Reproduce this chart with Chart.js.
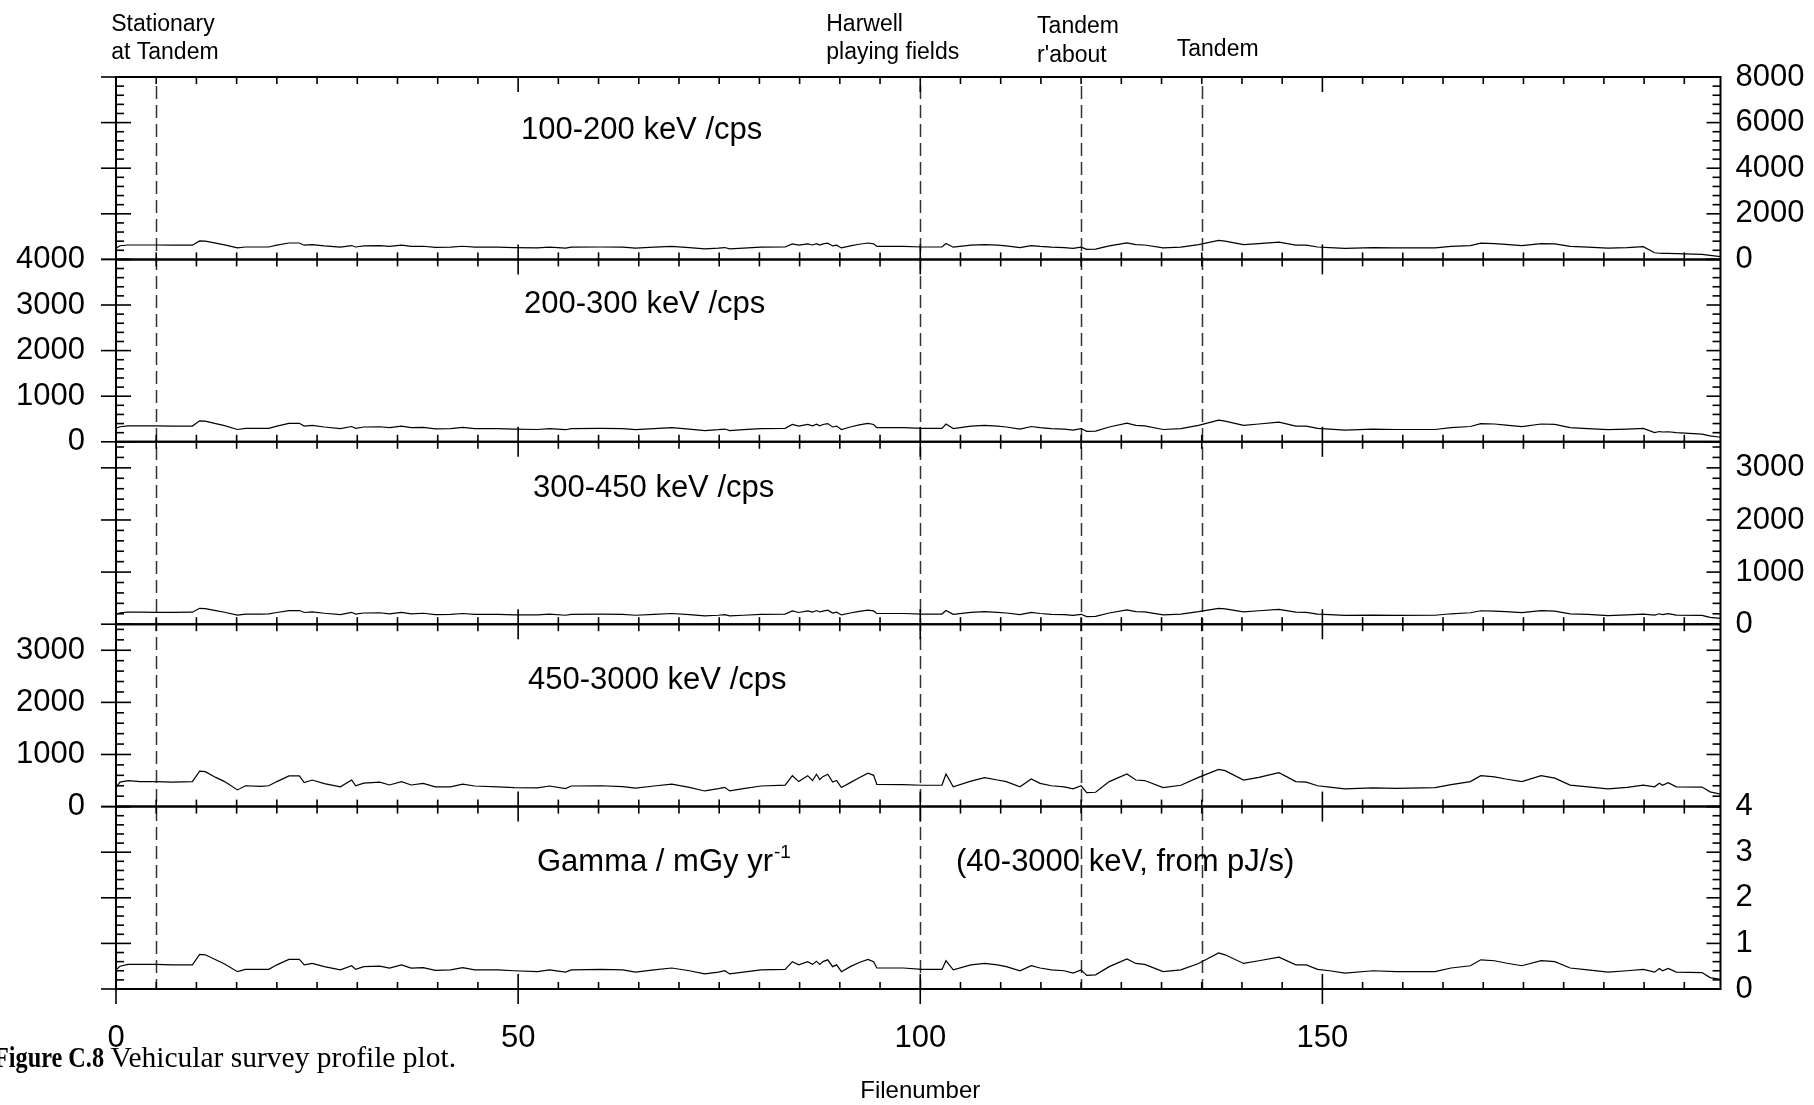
<!DOCTYPE html>
<html>
<head>
<meta charset="utf-8">
<title>Vehicular survey profile plot</title>
<script src="https://cdn.jsdelivr.net/npm/chart.js@4.4.1/dist/chart.umd.min.js"></script>
<style>
  html, body { margin: 0; padding: 0; background: #fff; }
  #wrap { position: relative; width: 1814px; height: 1105px; }
</style>
</head>
<body>
<div id="wrap"><canvas id="profileChart"></canvas></div>
<script>
// file numbers along the survey route (shared by every trace)
const fileNumbers = [
    0, 0.5, 1.5, 3, 5, 7, 9.5, 10.4, 11.1, 12.4,
    13.5, 15.1, 16.1, 18, 19, 20, 21.5, 22.8, 23.4, 24.4,
    25.9, 27.9, 29.3, 29.8, 30.8, 32.8, 34, 35.5, 36.7, 38.2,
    39.7, 41.6, 43.1, 44.6, 47.5, 49.5, 52.4, 53.9, 55.9, 56.6,
    60.3, 63, 64.6, 66.9, 69.1, 71.3, 73.2, 74.9, 75.7, 76.3,
    78, 80.2, 83.2, 84.1, 84.9, 86, 86.6, 87.1, 87.5, 87.9,
    88.5, 89.1, 89.6, 90.2, 91.3, 92.4, 93.5, 94.2, 94.6, 97.9,
    100.2, 102.7, 103.2, 104.1, 106.3, 108, 109.6, 110.7, 112.4, 113.8,
    114.9, 116.3, 117.9, 119, 120, 120.7, 121.8, 123.5, 125.7, 126.8,
    127.9, 130.2, 132.4, 134.6, 137.1, 137.9, 140.2, 142.1, 144.6, 146.7,
    148, 149.4, 150.9, 152.8, 156.3, 159.2, 164, 166, 168.4, 169.7,
    171.4, 172.8, 174.8, 177.2, 178.9, 180.8, 183, 185.5, 187.9, 189.9,
    191.3, 191.9, 192.3, 193, 194, 197.2, 198.2, 199.5
];

// 100-200 keV /cps
const counts100to200 = [
    490, 600, 632, 632, 632, 624, 624, 808, 800, 712,
    640, 504, 544, 544, 544, 624, 720, 720, 624, 648,
    592, 536, 608, 544, 592, 600, 568, 624, 568, 576,
    528, 536, 576, 536, 536, 520, 504, 536, 496, 536,
    544, 536, 496, 536, 568, 520, 464, 496, 520, 464,
    496, 536, 544, 680, 624, 680, 632, 688, 632, 680,
    712, 592, 624, 504, 592, 664, 720, 680, 568, 568,
    544, 544, 696, 536, 624, 648, 624, 592, 520, 608,
    568, 536, 520, 480, 536, 440, 448, 592, 728, 648,
    632, 504, 536, 648, 832, 800, 648, 696, 760, 624,
    624, 544, 520, 480, 520, 504, 504, 568, 608, 712,
    696, 656, 608, 696, 680, 568, 536, 496, 520, 560,
    290, 270, 265, 262, 255, 223, 180, 120
];

// 200-300 keV /cps
const counts200to300 = [
    300, 330, 350, 350, 350, 345, 345, 460, 455, 400,
    355, 270, 295, 295, 295, 345, 405, 405, 345, 360,
    325, 290, 335, 295, 325, 330, 310, 345, 310, 315,
    285, 290, 315, 290, 290, 280, 270, 290, 265, 290,
    295, 290, 265, 290, 310, 280, 245, 265, 280, 245,
    265, 290, 295, 380, 345, 380, 350, 385, 350, 380,
    400, 325, 345, 270, 325, 370, 405, 380, 310, 310,
    295, 295, 390, 290, 345, 360, 345, 325, 280, 335,
    310, 290, 280, 255, 290, 230, 235, 325, 410, 360,
    350, 270, 290, 360, 475, 455, 360, 390, 430, 345,
    345, 295, 280, 255, 280, 270, 270, 310, 335, 400,
    390, 365, 335, 390, 380, 310, 290, 265, 280, 295,
    200, 225, 215, 220, 200, 170, 130, 100
];

// 300-450 keV /cps
const counts300to450 = [
    190, 220, 230, 230, 228, 225, 230, 305, 300, 260,
    230, 175, 195, 195, 198, 225, 262, 262, 225, 235,
    210, 185, 228, 195, 215, 220, 200, 225, 200, 210,
    185, 188, 205, 190, 190, 180, 178, 192, 172, 190,
    192, 188, 172, 190, 205, 182, 158, 172, 182, 160,
    172, 190, 195, 255, 225, 255, 232, 262, 235, 250,
    268, 215, 230, 178, 215, 245, 270, 255, 205, 205,
    195, 195, 262, 190, 228, 240, 228, 215, 185, 225,
    205, 190, 185, 168, 190, 145, 150, 215, 275, 240,
    235, 180, 195, 240, 305, 295, 235, 258, 285, 230,
    228, 195, 185, 168, 175, 170, 172, 200, 220, 258,
    252, 240, 222, 262, 252, 200, 188, 165, 178, 192,
    175, 200, 185, 202, 175, 170, 130, 113
];

// 450-3000 keV /cps
const counts450to3000 = [
    370, 470, 500, 480, 480, 470, 480, 680, 670, 560,
    480, 320, 400, 390, 400, 480, 590, 590, 460, 510,
    440, 380, 510, 400, 450, 470, 415, 480, 415, 445,
    380, 380, 430, 395, 380, 365, 360, 395, 345, 395,
    400, 385, 355, 395, 430, 370, 300, 345, 370, 300,
    345, 395, 413, 593, 480, 593, 500, 620, 520, 575,
    620, 470, 500, 365, 460, 555, 640, 600, 425, 420,
    410, 413, 625, 380, 490, 555, 510, 480, 380, 530,
    445, 400, 380, 340, 400, 268, 275, 480, 625, 510,
    500, 365, 410, 560, 715, 690, 510, 560, 650, 480,
    470, 400, 375, 340, 360, 350, 365, 420, 480, 593,
    570, 530, 480, 593, 545, 413, 380, 340, 370, 413,
    380, 450, 410, 458, 380, 375, 283, 240
];

// Gamma / mGy yr-1
const gammaDose = [
    0.42, 0.50, 0.54, 0.54, 0.54, 0.53, 0.53, 0.76, 0.75, 0.64,
    0.55, 0.38, 0.43, 0.43, 0.43, 0.53, 0.65, 0.65, 0.53, 0.56,
    0.49, 0.42, 0.51, 0.43, 0.49, 0.50, 0.46, 0.53, 0.46, 0.47,
    0.41, 0.42, 0.47, 0.42, 0.42, 0.40, 0.38, 0.42, 0.37, 0.42,
    0.43, 0.42, 0.37, 0.42, 0.46, 0.40, 0.33, 0.37, 0.40, 0.33,
    0.37, 0.42, 0.43, 0.60, 0.53, 0.60, 0.54, 0.61, 0.54, 0.60,
    0.64, 0.49, 0.53, 0.38, 0.49, 0.58, 0.65, 0.60, 0.46, 0.46,
    0.43, 0.43, 0.62, 0.42, 0.53, 0.56, 0.53, 0.49, 0.40, 0.51,
    0.46, 0.42, 0.40, 0.35, 0.42, 0.30, 0.31, 0.49, 0.66, 0.56,
    0.54, 0.38, 0.42, 0.56, 0.79, 0.75, 0.56, 0.62, 0.70, 0.53,
    0.53, 0.43, 0.40, 0.35, 0.40, 0.38, 0.38, 0.46, 0.51, 0.64,
    0.62, 0.57, 0.51, 0.62, 0.60, 0.46, 0.42, 0.37, 0.40, 0.43,
    0.37, 0.45, 0.40, 0.45, 0.37, 0.36, 0.25, 0.21
];

// panels from top to bottom
const panelSeries = [counts100to200, counts200to300, counts300to450, counts450to3000, gammaDose];
const panelTitles = ['100-200 keV /cps', '200-300 keV /cps', '300-450 keV /cps', '450-3000 keV /cps', 'Gamma / mGy yr'];
const panelRanges = [8000, 4000, 3500, 3500, 4];
const panelMajorSteps = [2000, 1000, 1000, 1000, 1];
const panelMinorSteps = [400, 200, 200, 200, 0.2];
const panelLabelSides = ['right', 'left', 'right', 'left', 'right'];
const panelTickLabels = [
    [0, 2000, 4000, 6000, 8000],
    [0, 1000, 2000, 3000, 4000],
    [0, 1000, 2000, 3000],
    [0, 1000, 2000, 3000],
    [0, 1, 2, 3, 4]
];

// x axis
const xTickLabels = [0, 50, 100, 150];
const xMax = 199.5;

// dashed markers along the route
const markerFiles = [5, 100, 120, 135];
const markerLabels = [['Stationary', 'at Tandem'], ['Harwell', 'playing fields'], ['Tandem', "r'about"], ['Tandem']];

const SANS = '"Liberation Sans", Arial, Helvetica, sans-serif';
const SERIF = '"Liberation Serif", "Times New Roman", serif';

/**
 * Draw a straight line segment.
 */
function line(ctx, x1, y1, x2, y2) {
    ctx.beginPath();
    ctx.moveTo(x1, y1);
    ctx.lineTo(x2, y2);
    ctx.stroke();
}

/**
 * Vertical dashed lines at the marked file numbers.
 */
function drawMarkers(chart) {
    const ctx = chart.ctx;
    const { top, bottom } = chart.chartArea;
    const x = chart.scales.x;
    ctx.save();
    ctx.strokeStyle = '#333';
    ctx.lineWidth = 1.5;
    ctx.setLineDash([13, 6]);
    markerFiles.forEach(f => {
        const px = Math.round(x.getPixelForValue(f)) + 0.5;
        line(ctx, px, top + 9, px, bottom);
    });
    ctx.restore();
}

/**
 * Axes, panel borders and all the tick marks.
 */
function drawFrame(chart) {
    const ctx = chart.ctx;
    const { left, right, top, bottom } = chart.chartArea;
    const x = chart.scales.x;
    ctx.save();
    ctx.strokeStyle = '#000';
    ctx.lineWidth = 2;
    line(ctx, left, top - 1, left, bottom + 1);
    line(ctx, right, top - 1, right, bottom + 1);

    panelRanges.forEach((range, k) => {
        const y = chart.scales['y' + k];
        const yTop = y.getPixelForValue(range);
        const yZero = y.getPixelForValue(0);
        ctx.lineWidth = 2;
        line(ctx, left, yTop, right, yTop);
        line(ctx, left, yZero, right, yZero);

        // y ticks on both sides
        ctx.lineWidth = 1.6;
        const minor = panelMinorSteps[k];
        const major = panelMajorSteps[k];
        const count = Math.floor(range / minor + 1e-6);
        for (let i = 0; i <= count; i++) {
            const v = i * minor;
            const py = y.getPixelForValue(v);
            const isMajor = Math.abs(v / major - Math.round(v / major)) < 1e-6;
            if (isMajor) {
                line(ctx, left - 15, py, left + 15, py);
                line(ctx, right - 14, py, right, py);
            } else {
                line(ctx, left, py, left + 8, py);
                line(ctx, right - 8, py, right, py);
            }
        }

        // x ticks on the top and bottom of every panel
        for (let f = 0; f <= xMax; f += 5) {
            const px = x.getPixelForValue(f);
            const isMajor = f % 50 === 0;
            const len = isMajor ? 15 : 7;
            line(ctx, px, yTop, px, yTop + len);
            line(ctx, px, yZero, px, yZero - len);
            if (isMajor && k === panelRanges.length - 1) {
                line(ctx, px, yZero, px, yZero + 15);
            }
        }
    });
    ctx.restore();
}

/**
 * Tick labels, panel titles, marker notes and caption.
 */
function drawTexts(chart) {
    const ctx = chart.ctx;
    const { left, right, bottom } = chart.chartArea;
    const x = chart.scales.x;
    ctx.save();
    ctx.fillStyle = '#000';
    ctx.textBaseline = 'middle';

    // y tick labels
    ctx.font = '31px ' + SANS;
    panelTickLabels.forEach((values, k) => {
        const y = chart.scales['y' + k];
        const onLeft = panelLabelSides[k] === 'left';
        ctx.textAlign = onLeft ? 'right' : 'left';
        const tx = onLeft ? left - 31 : right + 15;
        values.forEach(v => ctx.fillText(String(v), tx, y.getPixelForValue(v)));
    });

    // x tick labels
    ctx.textAlign = 'center';
    xTickLabels.forEach(f => ctx.fillText(String(f), x.getPixelForValue(f), bottom + 49));

    // panel titles
    const titleX = [521, 524, 533, 528, 537];
    const titleDy = [53, 45, 47, 56, 56];
    ctx.textAlign = 'left';
    panelTitles.forEach((title, k) => {
        const y = chart.scales['y' + k];
        const ty = y.getPixelForValue(panelRanges[k]) + titleDy[k];
        ctx.font = '31px ' + SANS;
        ctx.fillText(title, titleX[k], ty);
        if (k === panelTitles.length - 1) {
            const w = ctx.measureText(title).width;
            ctx.font = '19px ' + SANS;
            ctx.fillText('-1', titleX[k] + w + 1, ty - 10);
            ctx.font = '31px ' + SANS;
            ctx.fillText('(40-3000 keV, from pJ/s)', 956, ty);
        }
    });

    // marker notes above the plot
    const noteDx = [-45, -94, -44, -25];
    const noteY = [[25, 53], [25, 53], [27, 56], [50]];
    ctx.font = '23px ' + SANS;
    markerLabels.forEach((lines, i) => {
        const px = x.getPixelForValue(markerFiles[i]) + noteDx[i];
        lines.forEach((txt, j) => ctx.fillText(txt, px, noteY[i][j]));
    });

    // axis title
    ctx.textAlign = 'center';
    ctx.font = '24px ' + SANS;
    ctx.fillText('Filenumber', x.getPixelForValue(100), 1091);

    // figure caption (bold part set a little narrower, as in the scan)
    ctx.textAlign = 'left';
    ctx.font = 'bold 29.5px ' + SERIF;
    ctx.fillText('Figure C.8', -6, 1059, 110);
    ctx.font = '29.5px ' + SERIF;
    ctx.fillText(' Vehicular survey profile plot.', 103, 1059);
    ctx.restore();
}

const profileFrame = {
    id: 'profileFrame',
    beforeDatasetsDraw(chart) {
        drawMarkers(chart);
    },
    afterDatasetsDraw(chart) {
        drawFrame(chart);
        drawTexts(chart);
    }
};

/**
 * Each panel gets its own y scale; the scale covers the whole plot
 * height so that its 0..range band falls in the panel's slot.
 */
function buildScales() {
    const scales = {
        x: { type: 'linear', min: 0, max: xMax, display: false }
    };
    const n = panelRanges.length;
    panelRanges.forEach((range, k) => {
        scales['y' + k] = {
            type: 'linear',
            display: false,
            min: -(n - 1 - k) * range,
            max: (k + 1) * range
        };
    });
    return scales;
}

function buildDatasets() {
    return panelSeries.map((values, k) => ({
        label: panelTitles[k],
        data: fileNumbers.map((f, i) => ({ x: f, y: values[i] })),
        yAxisID: 'y' + k,
        borderColor: '#000',
        borderWidth: 1.2,
        pointRadius: 0,
        tension: 0,
        fill: false
    }));
}

function showProfileChart() {
    const ctx = document.getElementById('profileChart');
    new Chart(ctx, {
        type: 'line',
        data: { datasets: buildDatasets() },
        options: {
            responsive: true,
            maintainAspectRatio: false,
            animation: false,
            events: [],
            layout: { padding: { left: 116, right: 93.5, top: 77, bottom: 116 } },
            scales: buildScales(),
            plugins: {
                legend: { display: false },
                tooltip: { enabled: false }
            }
        },
        plugins: [profileFrame]
    });
}

showProfileChart();
</script>
</body>
</html>
